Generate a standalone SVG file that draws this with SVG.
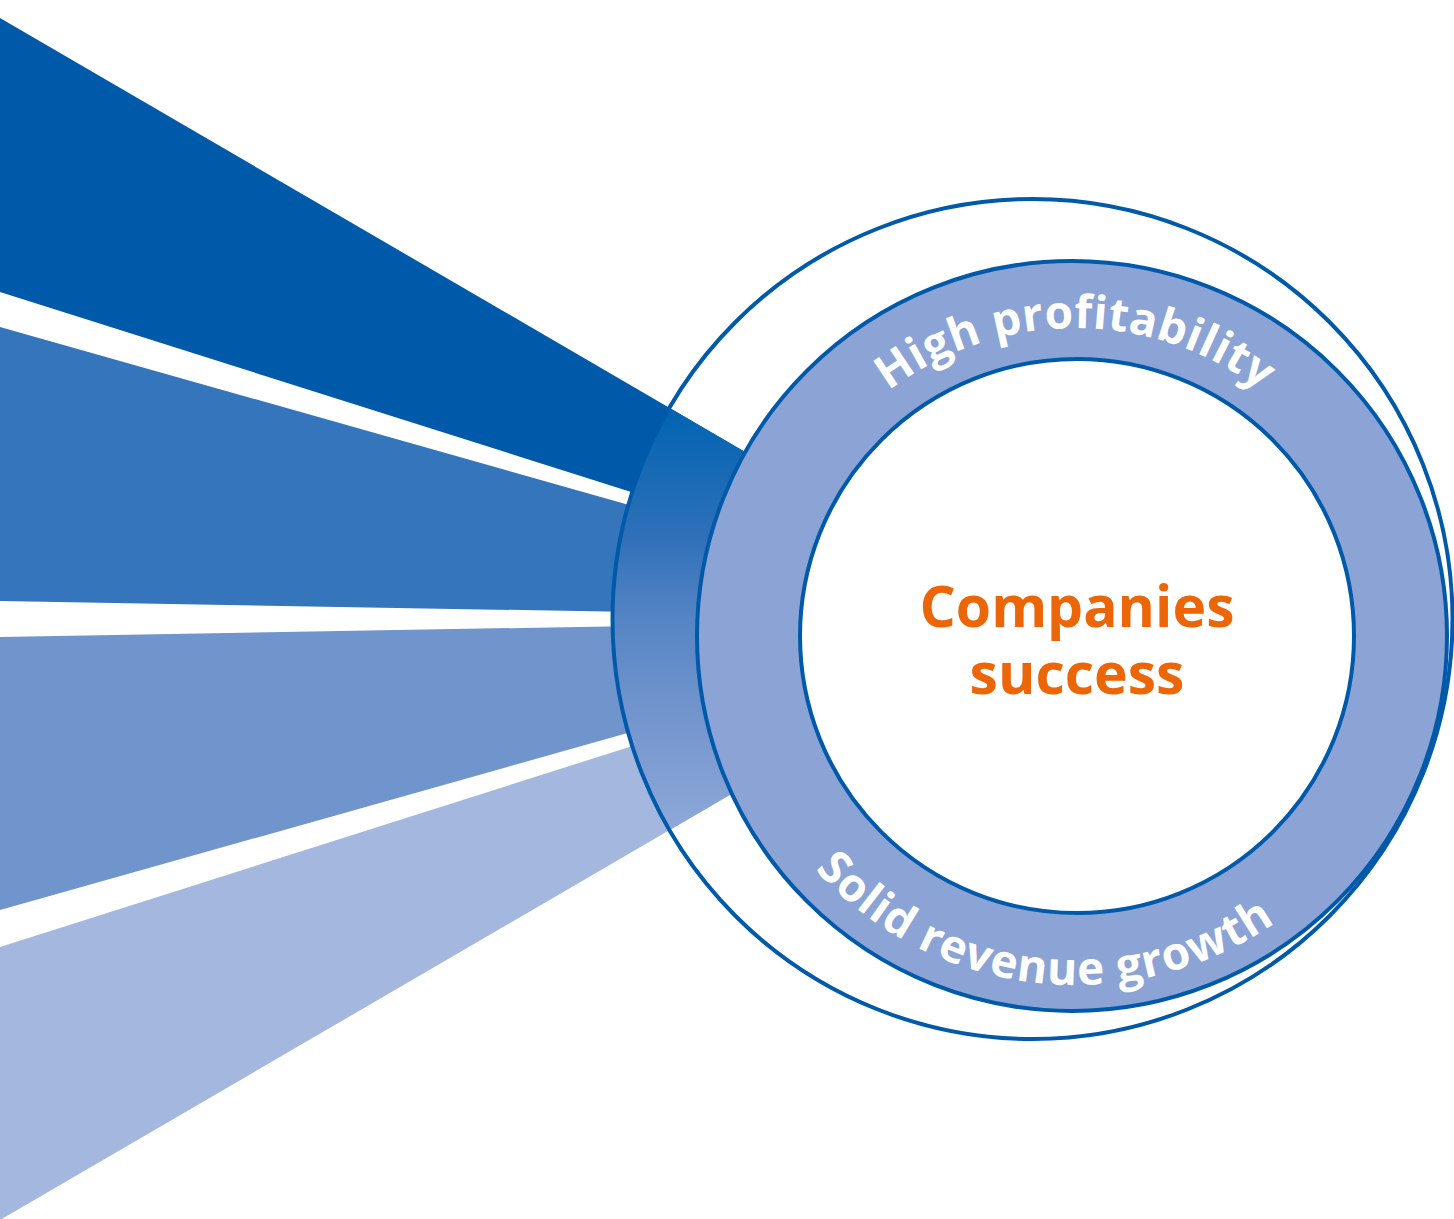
<svg xmlns="http://www.w3.org/2000/svg" width="1454" height="1219" viewBox="0 0 1454 1219">
  <defs>
    <style>
      .edge { fill: none; stroke: #005aa9; stroke-width: 4; }
      .ring-label { font-family: "Open Sans", "Liberation Sans", sans-serif; font-weight: 700; font-size: 46px; fill: #ffffff; }
      .core-label { font-family: "Open Sans", "Liberation Sans", sans-serif; font-weight: 700; font-size: 57px; fill: #ec6608; text-anchor: middle; }
    </style>
    <linearGradient id="bandFade" gradientUnits="userSpaceOnUse" x1="0" y1="410" x2="0" y2="830">
      <stop offset="0" stop-color="#0064b1"/>
      <stop offset="0.3" stop-color="#2f70b9"/>
      <stop offset="0.5" stop-color="#5585c4"/>
      <stop offset="0.7" stop-color="#7093cc"/>
      <stop offset="1" stop-color="#8ea8d8"/>
    </linearGradient>
    <clipPath id="fanClip">
      <polygon points="1032,619 0,18 0,1220"/>
    </clipPath>
    <!-- baselines for the curved ring labels -->
    <path id="arcTop" d="M 808.3 482 A 308 308 0 0 1 1341.7 482"/>
    <path id="arcBottom" d="M 754.0 775.5 A 351 351 0 0 0 1356.4 844.2"/>
  </defs>

  <!-- four beams fanning out from the hub -->
  <g id="rays">
    <polygon fill="#005aa9" points="1032,619 0,18 0,292"/>
    <polygon fill="#3575bb" points="1032,619 0,327 0,601"/>
    <polygon fill="#7095cc" points="1032,619 0,637 0,910"/>
    <polygon fill="#a4b8df" points="1032,619 0,947 0,1220"/>
  </g>

  <!-- outer disc: beams merge into a shaded band -->
  <g id="outer-disc">
    <circle cx="1032.5" cy="619" r="420" fill="url(#bandFade)" clip-path="url(#fanClip)"/>
    <circle class="edge" cx="1032.5" cy="619" r="420"/>
  </g>

  <!-- ring with the two outcome labels -->
  <g id="ring">
    <circle cx="1072" cy="636" r="375" fill="#8ba4d5" stroke="#005aa9" stroke-width="4"/>
    <text class="ring-label" letter-spacing="0.4"><textPath href="#arcTop" startOffset="50%" text-anchor="middle">High profitability</textPath></text>
    <text class="ring-label" letter-spacing="0.9"><textPath href="#arcBottom" startOffset="50%" text-anchor="middle">Solid revenue growth</textPath></text>
  </g>

  <!-- central core -->
  <g id="core">
    <circle cx="1077" cy="636" r="277" fill="#ffffff" stroke="#005aa9" stroke-width="4"/>
    <text class="core-label" x="1077" y="627">Companies<tspan x="1077" y="694">success</tspan></text>
  </g>
</svg>
